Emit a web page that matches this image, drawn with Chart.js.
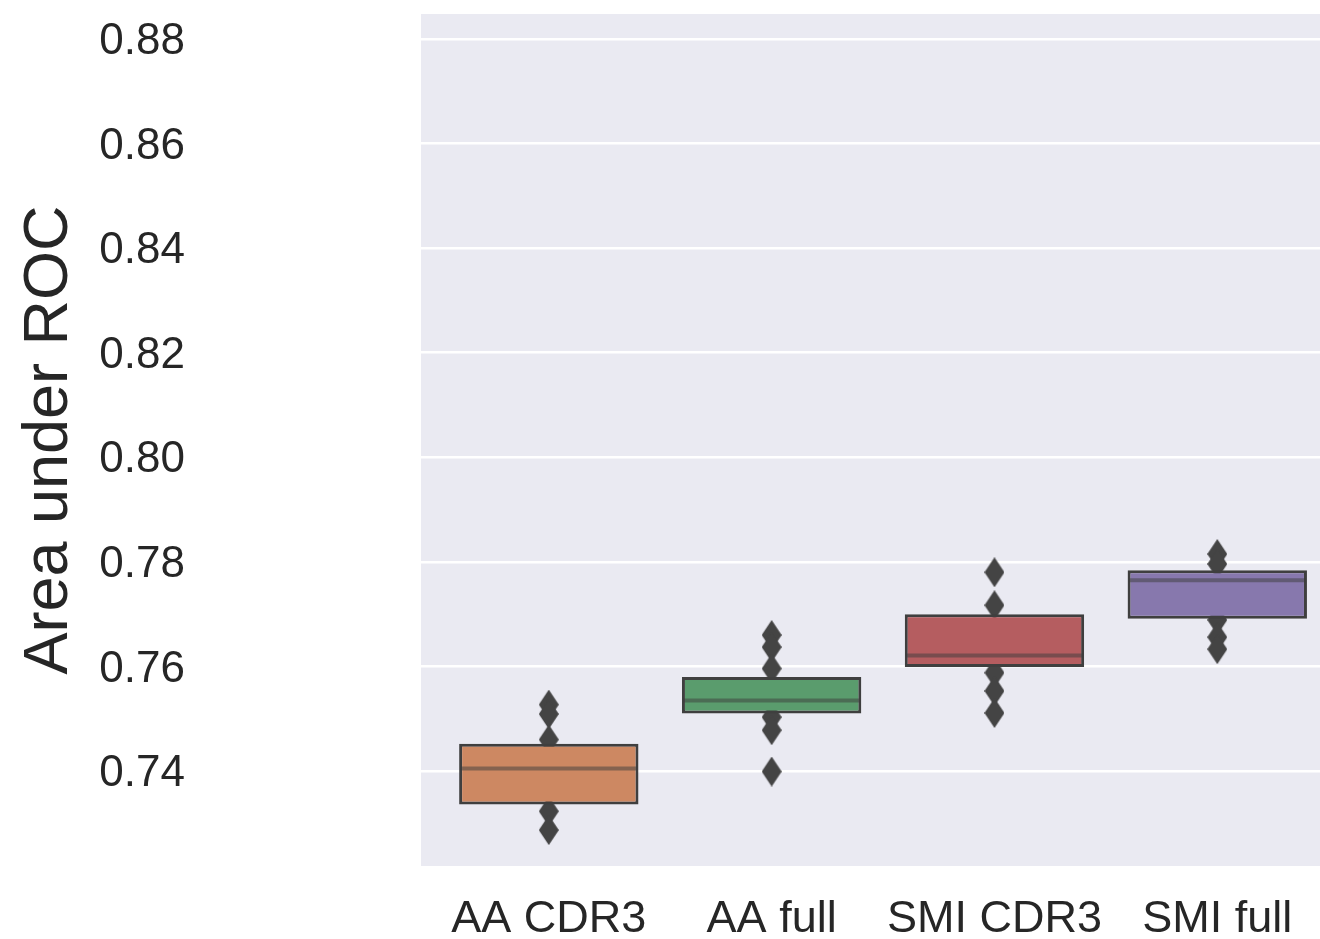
<!DOCTYPE html>
<html>
<head>
<meta charset="utf-8">
<script src="https://cdn.jsdelivr.net/npm/chart.js@4.4.1/dist/chart.umd.min.js"></script>
<style>
  html, body { margin: 0; padding: 0; background: #ffffff; }
  #wrap { position: relative; width: 1320px; height: 939px; }
</style>
</head>
<body>
<div id="wrap"><canvas id="auc"></canvas></div>
<script>
const categories = ["AA CDR3", "AA full", "SMI CDR3", "SMI full"];
const boxLow = [0.7336, 0.7510, 0.7599, 0.7691];
const boxHigh = [0.7452, 0.7580, 0.7700, 0.7784];
const medians = [0.7405, 0.7535, 0.7621, 0.7765];
const outliers = [
  [0.7527, 0.7509, 0.7460, 0.7323, 0.7287],
  [0.7660, 0.7637, 0.7596, 0.7503, 0.7478, 0.7399],
  [0.7780, 0.7717, 0.7588, 0.7553, 0.7511],
  [0.7815, 0.7796, 0.7689, 0.7656, 0.7633]
];
const yTicks = [0.74, 0.76, 0.78, 0.80, 0.82, 0.84, 0.86, 0.88];

const boxColors = ["#cd8862", "#5a9c6d", "#b55d60", "#8778ad"];
const FONT = "'Liberation Sans', Arial, sans-serif";

// thin diamond marker like matplotlib's "d"
function diamondMarker() {
  const c = document.createElement("canvas");
  c.width = 20; c.height = 30;
  const g = c.getContext("2d");
  g.fillStyle = "#444444";
  g.beginPath();
  g.moveTo(10, 0);
  g.lineTo(20, 15);
  g.lineTo(10, 30);
  g.lineTo(0, 15);
  g.closePath();
  g.fill();
  return c;
}

const bgPlugin = {
  id: "plotBg",
  beforeDraw(chart) {
    const { ctx, chartArea: a } = chart;
    ctx.save();
    ctx.fillStyle = "#eaeaf2";
    ctx.fillRect(a.left, a.top, a.right - a.left, a.bottom - a.top);
    ctx.restore();
  }
};

const outlierPoints = [];
outliers.forEach((vals, i) => vals.forEach(v => outlierPoints.push({ x: i, y: v })));

new Chart(document.getElementById("auc"), {
  type: "bar",
  data: {
    datasets: [
      {
        type: "bar",
        data: categories.map((c, i) => ({ x: i, y: [boxLow[i], boxHigh[i]] })),
        backgroundColor: boxColors,
        borderColor: "#3f3f3f",
        borderWidth: 3,
        borderSkipped: false,
        barPercentage: 0.805,
        categoryPercentage: 1.0,
        order: 2
      },
      {
        type: "scatter",
        data: categories.map((c, i) => ({ x: i, y: medians[i] })),
        pointStyle: "line",
        radius: 88,
        borderWidth: 4,
        borderColor: "rgba(60,60,60,0.5)",
        order: 1
      },
      {
        type: "scatter",
        data: outlierPoints,
        pointStyle: diamondMarker(),
        radius: 10,
        order: 3
      }
    ]
  },
  options: {
    responsive: true,
    maintainAspectRatio: false,
    animation: false,
    layout: { autoPadding: false, padding: { top: 14, right: 0, left: 0, bottom: 0 } },
    plugins: { legend: { display: false }, tooltip: { enabled: false } },
    scales: {
      x: {
        type: "linear",
        min: -0.5736,
        max: 3.461,
        offset: false,
        grid: { display: false },
        border: { display: false },
        afterBuildTicks(scale) {
          scale.ticks = categories.map((c, i) => ({ value: i }));
        },
        afterFit(scale) {
          scale.height = 73;
          scale.paddingLeft = 0;
          scale.paddingRight = 0;
        },
        ticks: {
          autoSkip: false,
          maxRotation: 0,
          padding: 19,
          color: "#262626",
          font: { family: FONT, size: 45 },
          callback: v => categories[v]
        }
      },
      y: {
        type: "linear",
        min: 0.72183,
        max: 0.88478,
        grid: { color: "#ffffff", lineWidth: 2.5, drawTicks: false },
        border: { display: false },
        afterBuildTicks(scale) {
          scale.ticks = yTicks.map(v => ({ value: v }));
        },
        afterFit(scale) {
          scale.width = 421;
          scale.paddingTop = 0;
          scale.paddingBottom = 0;
        },
        ticks: {
          padding: 236,
          labelOffset: 3,
          color: "#262626",
          font: { family: FONT, size: 44 },
          callback: v => v.toFixed(2)
        },
        title: {
          display: true,
          text: "Area under ROC",
          color: "#262626",
          font: { family: FONT, size: 63 },
          padding: { top: 12, bottom: 0 }
        }
      }
    }
  },
  plugins: [bgPlugin]
});
</script>
</body>
</html>
